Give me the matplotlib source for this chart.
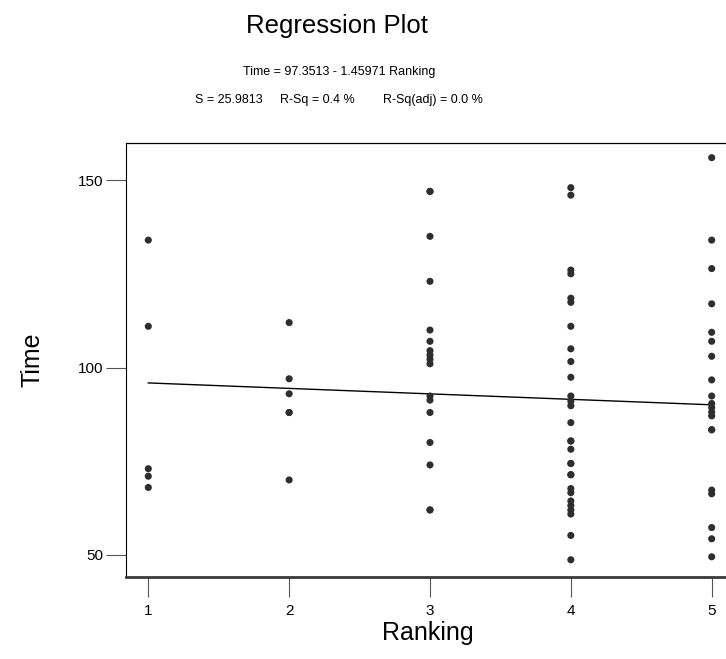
import numpy as np
import matplotlib.pyplot as plt

plt.rcParams["font.family"] = ["Liberation Sans", "DejaVu Sans"]

# Time values read per Ranking level
time_r1 = [134, 111, 73, 71, 68]
time_r2 = [112, 97, 93, 88, 88, 70]
time_r3 = [147, 147, 135, 123, 110, 107, 104.5, 103.3, 102.2, 101, 92.4, 91.3,
           88, 80, 74, 62, 62]
time_r4 = [148, 146, 126, 125, 118.5, 117.4, 111, 105, 101.6, 97.4, 92.4, 91,
           89.8, 85.3, 80.4, 80.4, 78.2, 74.4, 74.4, 71.4, 71.4, 67.7, 66.6,
           64.4, 63.2, 62, 60.9, 55.2, 48.7]
time_r5 = [156, 134, 126.4, 117, 109.4, 107, 103, 96.7, 92.4, 90.4, 89.3, 88.1,
           87.1, 83.4, 83.4, 67.3, 66.3, 57.3, 54.3, 49.5]
levels = [1, 2, 3, 4, 5]

# fitted equation as printed on the chart
intercept = 97.3513
slope = -1.45971

groups = [time_r1, time_r2, time_r3, time_r4, time_r5]
ranking = np.concatenate([[lv] * len(g) for lv, g in zip(levels, groups)])
time = np.concatenate(groups)

fig = plt.figure(figsize=(7.26, 6.59), dpi=100)
ax = fig.add_axes([0.1742, 0.1244, 0.8313, 0.6591])

ax.scatter(ranking, time, s=26, c="#2e2e2e", edgecolors="none", zorder=3)
xfit = np.array([levels[0], levels[-1]])
ax.plot(xfit, intercept + slope * xfit, color="black", lw=1.0, zorder=2)

ax.set_xlim(0.845, 5.13)
ax.set_ylim(44.1, 160)
ax.set_xticks(levels)
ax.set_yticks([50, 100, 150])

ax.spines["right"].set_visible(False)
ax.spines["top"].set_linewidth(0.9)
ax.spines["left"].set_linewidth(0.8)
ax.spines["bottom"].set_linewidth(2.0)
ax.spines["bottom"].set_color("#3a3a3a")
ax.tick_params(axis="both", direction="out", length=14.5, width=0.8,
               color="#555555", labelsize=11)
ax.tick_params(axis="y", pad=2)
ax.tick_params(axis="x", pad=5)

ax.set_xlabel("Ranking", fontsize=18, labelpad=2)
ax.set_ylabel("Time", fontsize=18, labelpad=24)

fig.text(0.4635, 0.950, "Regression Plot", fontsize=18.5, ha="center", va="baseline")
fig.text(0.467, 0.886, "Time = 97.3513 - 1.45971 Ranking", fontsize=9,
         ha="center", va="baseline")
fig.text(195 / 726, 0.844, "S = 25.9813", fontsize=9, ha="left", va="baseline")
fig.text(280 / 726, 0.844, "R-Sq = 0.4 %", fontsize=9, ha="left", va="baseline")
fig.text(383 / 726, 0.844, "R-Sq(adj) = 0.0 %", fontsize=9, ha="left", va="baseline")

fig.savefig("out.png", dpi=100)
